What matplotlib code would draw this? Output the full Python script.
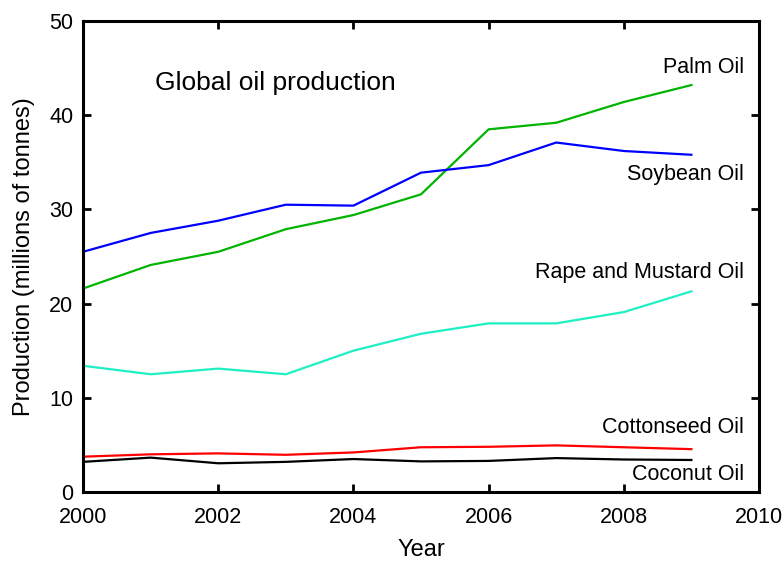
import matplotlib
matplotlib.use("Agg")
import matplotlib.pyplot as plt

plt.rcParams['font.family'] = ['Liberation Sans', 'DejaVu Sans']

years = [2000, 2001, 2002, 2003, 2004, 2005, 2006, 2007, 2008, 2009]
palm = [21.6, 24.1, 25.5, 27.9, 29.4, 31.6, 38.5, 39.2, 41.4, 43.2]
soybean = [25.5, 27.5, 28.8, 30.5, 30.4, 33.9, 34.7, 37.1, 36.2, 35.8]
rapeseed = [13.4, 12.5, 13.1, 12.5, 15.0, 16.8, 17.9, 17.9, 19.1, 21.3]
cottonseed = [3.75, 4.0, 4.1, 3.95, 4.2, 4.75, 4.8, 4.95, 4.75, 4.55]
coconut = [3.2, 3.65, 3.05, 3.2, 3.5, 3.25, 3.3, 3.6, 3.45, 3.4]

series = [
    ("Palm Oil", palm, "#00b400", 45.1),
    ("Soybean Oil", soybean, "#0000ff", 33.7),
    ("Rape and Mustard Oil", rapeseed, "#1ff0c4", 23.3),
    ("Cottonseed Oil", cottonseed, "#ff0000", 6.8),
    ("Coconut Oil", coconut, "#000000", 1.9),
]

fig = plt.figure(figsize=(7.84, 5.63), dpi=100)
ax = fig.add_axes([0.1059, 0.1261, 0.8622, 0.8366])

for name, vals, color, label_y in series:
    ax.plot(years, vals, color=color, lw=1.6)
    ax.text(2009.78, label_y, name, ha="right", va="center", fontsize=15.5)

ax.text(2001.07, 43.4, "Global oil production", ha="left", va="center", fontsize=19)

ax.set_xlim(2000, 2010)
ax.set_ylim(0, 50)
ax.set_xticks([2000, 2002, 2004, 2006, 2008, 2010])
ax.set_yticks([0, 10, 20, 30, 40, 50])
ax.tick_params(direction="in", length=6, width=2, labelsize=15.5,
               top=True, right=True, pad=7)
ax.tick_params(axis="x", pad=10.5)
for s in ax.spines.values():
    s.set_linewidth(2.2)

ax.set_xlabel("Year", fontsize=17, labelpad=8)
ax.set_ylabel("Production (millions of tonnes)", fontsize=17, labelpad=10)

fig.savefig("out.png", dpi=100)
